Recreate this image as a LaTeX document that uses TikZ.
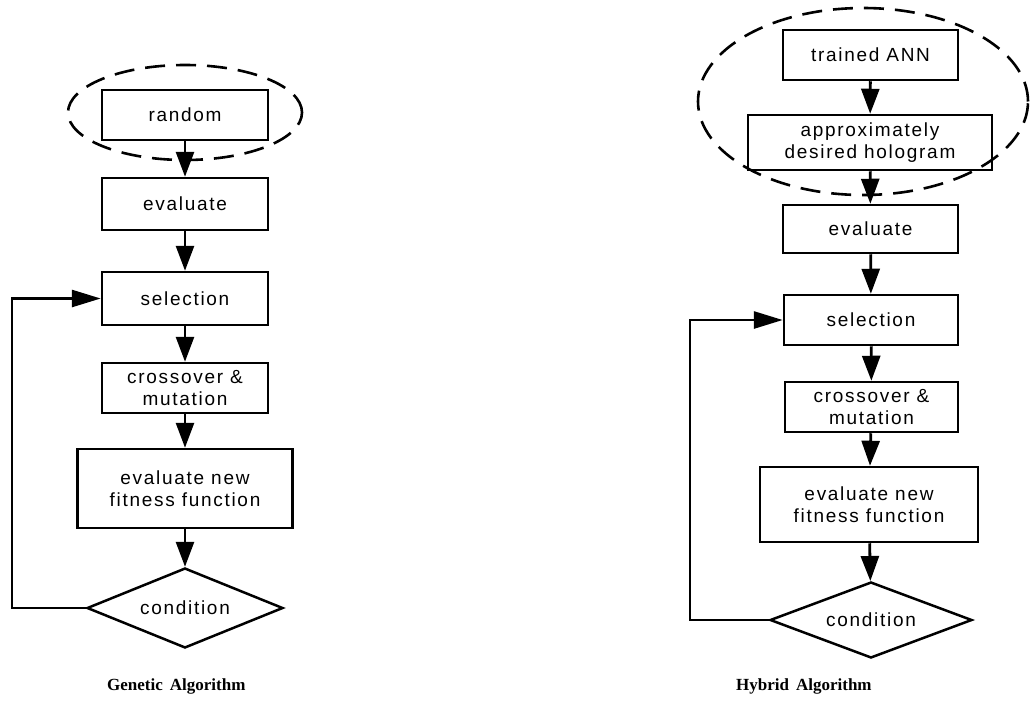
\documentclass[tikz,border=0pt]{standalone}
\usepackage{fontspec}
\usetikzlibrary{arrows.meta,shapes.geometric}
\newfontfamily\labfont[LetterSpace=9]{Liberation Sans}
\newfontfamily\capfont{Liberation Serif}
\begin{document}
\begin{tikzpicture}[x=1pt,y=-1pt,
  box/.style={draw,line width=2.5pt,rectangle,inner sep=0pt,align=center,
    font={\labfont\fontsize{19}{22.5}\selectfont}},
  condbox/.style={draw,line width=2.5pt,diamond,aspect=2.45,inner sep=0pt,
    font={\labfont\fontsize{19}{22.5}\selectfont}},
  arr/.style={line width=2.8pt,-{Triangle[length=25pt,width=18pt]}},
  loopline/.style={line width=2.8pt,-{Triangle[length=29pt,width=17pt]}},
  group/.style={draw,line width=2.6pt,dash pattern=on 20pt off 11pt},
  captext/.style={font={\capfont\bfseries\fontsize{17}{20}\selectfont},anchor=base west,inner sep=0pt}]
\useasboundingbox (0,0) rectangle (1032,707);
% ---------------- Genetic Algorithm ----------------
\node[box,minimum width=166pt,minimum height=50pt] (gr) at (185,115) {random};
\node[box,minimum width=166pt,minimum height=52pt] (ge) at (185,204) {evaluate};
\node[box,minimum width=166pt,minimum height=53pt] (gs) at (185,298.5) {selection};
\node[box,minimum width=166pt,minimum height=50pt] (gc) at (185,388) {crossover \&\\mutation};
\node[box,minimum width=215pt,minimum height=79pt] (gf) at (185,488.5) {evaluate new\\fitness function};
\node[condbox,minimum width=196pt,minimum height=80pt] (gd) at (185,608) {condition};
\draw[group] (185,112.5) ellipse [x radius=117pt,y radius=47.5pt];
\coordinate (gl) at (12,608);
\draw[arr] (gr) -- (ge);
\draw[arr] (ge) -- (gs);
\draw[arr] (gs) -- (gc);
\draw[arr] (gc) -- (gf);
\draw[arr] (gf) -- (gd);
\draw[loopline] (gd.west) -- (gl) |- (gs.west);
\node[captext] (gcap) at (107,690) {Genetic\hspace{7pt}Algorithm};
% ---------------- Hybrid Algorithm ----------------
\node[box,minimum width=175pt,minimum height=50pt] (ha) at (870.5,55) {trained ANN};
\node[box,minimum width=244pt,minimum height=55pt] (hh) at (870,142.5) {approximately\\desired hologram};
\node[box,minimum width=175pt,minimum height=48pt] (he) at (870.5,229) {evaluate};
\node[box,minimum width=174pt,minimum height=50pt] (hs) at (871,320) {selection};
\node[box,minimum width=173pt,minimum height=50pt] (hc) at (871.5,407) {crossover \&\\mutation};
\node[box,minimum width=218pt,minimum height=75pt] (hf) at (869,504.5) {evaluate new\\fitness function};
\node[condbox,minimum width=202pt,minimum height=76pt] (hd) at (871,620) {condition};
\draw[group] (863,101.5) ellipse [x radius=165pt,y radius=93.5pt];
\coordinate (hl) at (690,620);
\draw[arr] (ha) -- (hh);
\draw[arr] (hh) -- (he);
\draw[arr] (he) -- (hs);
\draw[arr] (hs) -- (hc);
\draw[arr] (hc) -- (hf);
\draw[arr] (hf) -- (hd);
\draw[loopline] (hd.west) -- (hl) |- (hs.west);
\node[captext] (hcap) at (736,690) {Hybrid\hspace{7pt}Algorithm};
\end{tikzpicture}
\end{document}
